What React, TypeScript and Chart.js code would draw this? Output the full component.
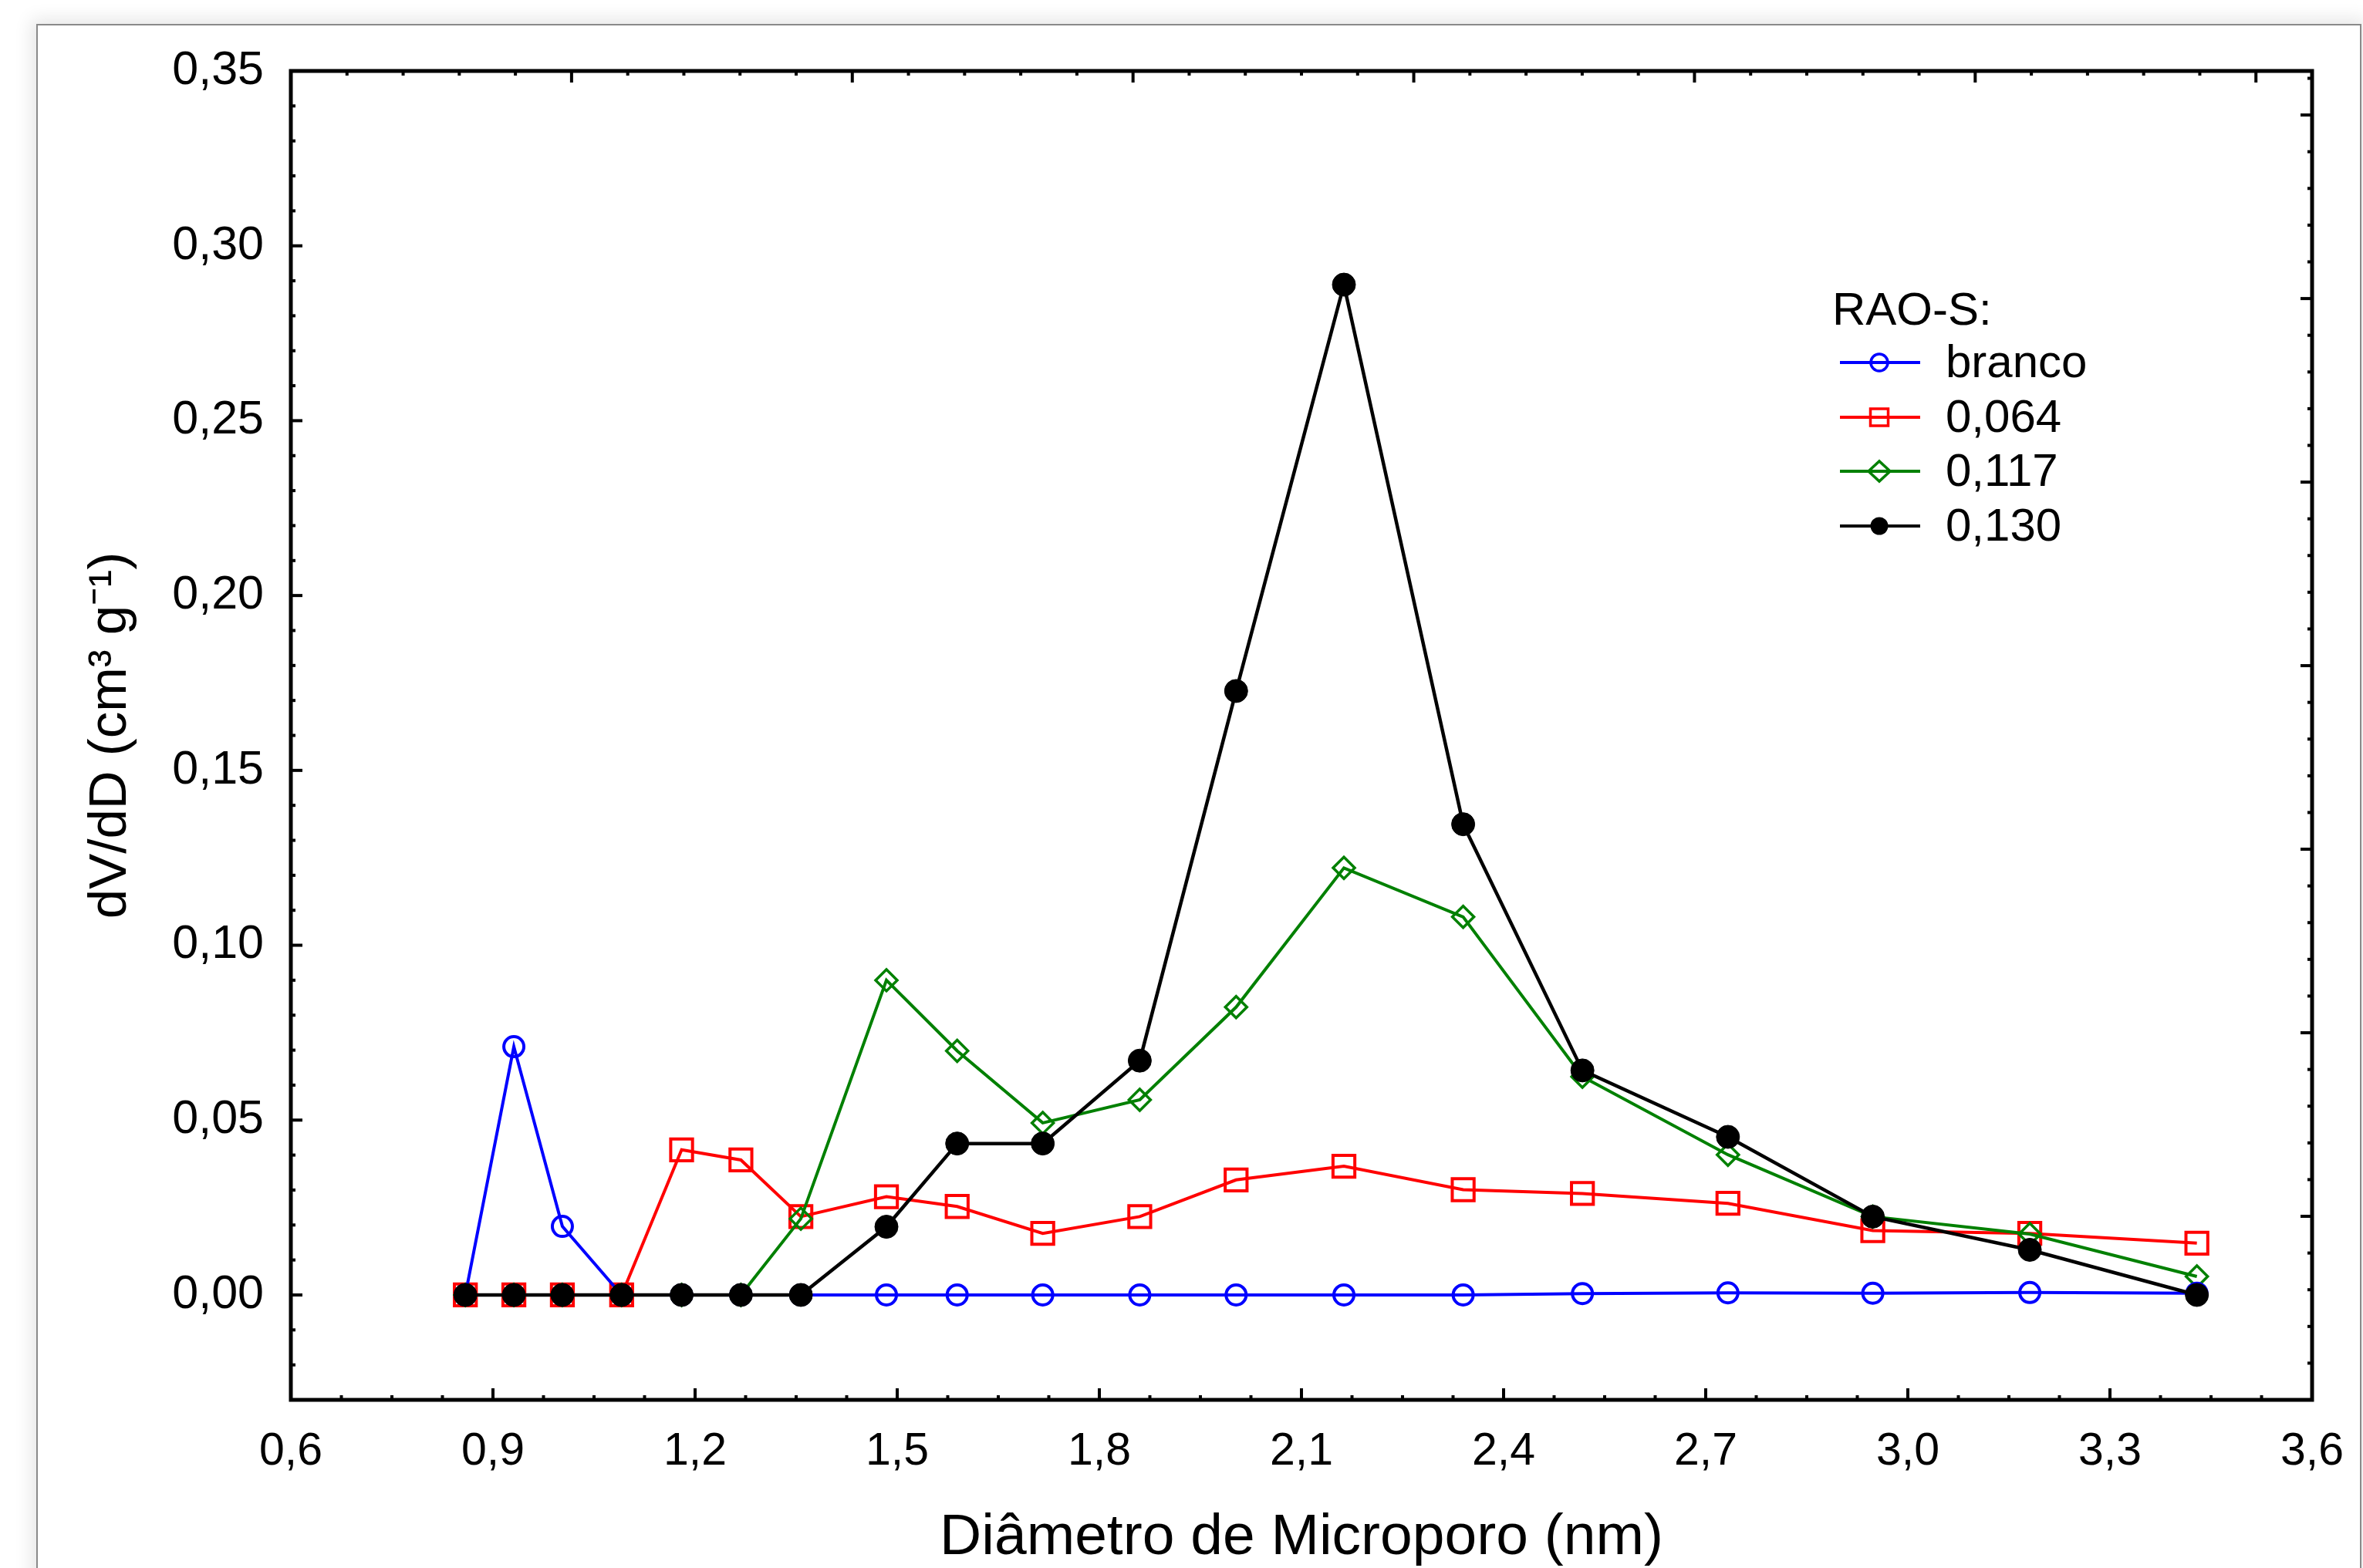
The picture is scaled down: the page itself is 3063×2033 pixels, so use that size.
import React, { useEffect, useRef } from 'react';
import { Chart, registerables } from 'chart.js';

Chart.register(...registerables);

// ---------------- data ----------------
const diameters = [0.859, 0.931, 1.003, 1.091, 1.18, 1.268, 1.357, 1.484, 1.589, 1.716, 1.86, 2.003, 2.163, 2.34, 2.517, 2.733, 2.948, 3.181, 3.429];
const branco = [0, 0.071, 0.0196, 0, 0, 0, 0, 0, 0, 0, 0, 0, 0, 0, 0.0004, 0.0006, 0.0005, 0.0007, 0.0005];
const rao064 = [0, 0, 0, 0, 0.0415, 0.0386, 0.0224, 0.0281, 0.0253, 0.0176, 0.0224, 0.0329, 0.0368, 0.0301, 0.029, 0.0262, 0.0184, 0.0176, 0.0148];
const rao117 = [0, 0, 0, 0, 0, 0, 0.0218, 0.09, 0.0698, 0.0492, 0.0558, 0.0823, 0.1221, 0.1081, 0.0624, 0.0401, 0.0224, 0.0174, 0.0053];
const rao130 = [0, 0, 0, 0, 0, 0, 0, 0.0195, 0.0433, 0.0433, 0.067, 0.1727, 0.2889, 0.1346, 0.0642, 0.0452, 0.0224, 0.0129, 0];

const seriesNames = ['branco', '0,064', '0,117', '0,130'];
const legendTitle = 'RAO-S:';
const xTitle = 'Diâmetro de Microporo (nm)';
const yTitle = 'dV/dD (cm³ g⁻¹)';

const xTicks = [0.6, 0.9, 1.2, 1.5, 1.8, 2.1, 2.4, 2.7, 3.0, 3.3, 3.6];
const yTicks = [0, 0.05, 0.1, 0.15, 0.2, 0.25, 0.3, 0.35];
const X_MIN = 0.6;
const X_MAX = 3.6;
const Y_MIN = -0.03;
const Y_MAX = 0.35;
const X_MINOR_STEP = 0.075;
const Y_MINOR_STEP = 0.01;
// mirrored (top / right) axes of the original use their own spacing
const X2_MIN = 0;
const X2_MAX = 3.6;
const X2_MINOR = 0.1;
const Y2_MIN = 0;
const Y2_MAX = 0.362;
const Y2_MINOR = 0.01;

const FONT = '"Liberation Sans", Arial, Helvetica, sans-serif';

const toPts = (ys: number[]) => diameters.map((d, i) => ({ x: d, y: ys[i] }));

// frame + inward ticks on all four sides
const framePlugin = {
  id: 'frameTicks',
  afterDraw(chart: any) {
    const { ctx, chartArea: a, scales } = chart;
    const xs = scales.x;
    const ys = scales.y;
    const xt = scales.x2;
    const yr = scales.y2;
    ctx.save();
    ctx.strokeStyle = '#000';
    ctx.lineCap = 'butt';
    ctx.lineWidth = 4;
    const seg = (x1: number, y1: number, x2: number, y2: number) => {
      ctx.beginPath();
      ctx.moveTo(x1, y1);
      ctx.lineTo(x2, y2);
      ctx.stroke();
    };
    // bottom
    const nx = Math.round((X_MAX - X_MIN) / X_MINOR_STEP);
    for (let i = 1; i < nx; i++) {
      const px = xs.getPixelForValue(X_MIN + i * X_MINOR_STEP);
      seg(px, a.bottom, px, a.bottom - (i % 4 === 0 ? 15 : 6));
    }
    // left
    const ny = Math.round((Y_MAX - Y_MIN) / Y_MINOR_STEP);
    for (let i = 1; i < ny; i++) {
      const py = ys.getPixelForValue(Y_MIN + i * Y_MINOR_STEP);
      seg(a.left, py, a.left + ((i - 3) % 5 === 0 ? 15 : 6), py);
    }
    // top
    const nx2 = Math.round((X2_MAX - X2_MIN) / X2_MINOR);
    for (let i = 1; i < nx2; i++) {
      const px = xt.getPixelForValue(X2_MIN + i * X2_MINOR);
      seg(px, a.top, px, a.top + (i % 5 === 0 ? 15 : 6));
    }
    // right
    const ny2 = Math.floor((Y2_MAX - Y2_MIN) / Y2_MINOR + 1e-6);
    for (let i = 1; i <= ny2; i++) {
      const py = yr.getPixelForValue(Y2_MIN + i * Y2_MINOR);
      if (py <= a.top + 3) continue;
      seg(a.right, py, a.right - (i % 5 === 0 ? 15 : 6), py);
    }
    ctx.lineWidth = 5;
    ctx.strokeRect(a.left, a.top, a.right - a.left, a.bottom - a.top);
    ctx.restore();
  },
};

// legend drawn inside the plot area
const legendPlugin = {
  id: 'insideLegend',
  afterDraw(chart: any) {
    const { ctx } = chart;
    const titleX = 2375;
    const titleY = 404;
    const lineX0 = 2385;
    const lineX1 = 2489;
    const markX = 2436;
    const textX = 2522;
    const rowY = [470, 541, 611, 682];
    ctx.save();
    ctx.fillStyle = '#000';
    ctx.textBaseline = 'middle';
    ctx.textAlign = 'left';
    ctx.font = `60px ${FONT}`;
    ctx.fillText(legendTitle, titleX, titleY);
    chart.data.datasets.forEach((ds: any, i: number) => {
      const y = rowY[i];
      const c = ds.borderColor;
      ctx.strokeStyle = c;
      ctx.lineWidth = 4;
      ctx.beginPath();
      ctx.moveTo(lineX0, y);
      ctx.lineTo(lineX1, y);
      ctx.stroke();
      ctx.lineWidth = 3.5;
      ctx.beginPath();
      if (ds.pointStyle === 'circle' && ds.legendFilled) {
        ctx.fillStyle = c;
        ctx.arc(markX, y, 11.5, 0, Math.PI * 2);
        ctx.fill();
      } else if (ds.pointStyle === 'circle') {
        ctx.arc(markX, y, 11, 0, Math.PI * 2);
        ctx.stroke();
      } else if (ds.pointStyle === 'rect') {
        ctx.rect(markX - 11.5, y - 11, 23, 22);
        ctx.stroke();
      } else if (ds.pointStyle === 'rectRot') {
        ctx.moveTo(markX - 14, y);
        ctx.lineTo(markX, y - 13);
        ctx.lineTo(markX + 14, y);
        ctx.lineTo(markX, y + 13);
        ctx.closePath();
        ctx.stroke();
      }
      ctx.fillStyle = '#000';
      ctx.fillText(ds.label, textX, y + 2);
    });
    ctx.restore();
  },
};

export default function App() {
  const ref = useRef<HTMLCanvasElement | null>(null);

  useEffect(() => {
    if (!ref.current) return;
    Chart.defaults.font.family = FONT;
    const chart = new Chart(ref.current, {
      type: 'line',
      data: {
        datasets: [
          {
            label: seriesNames[0],
            data: toPts(branco),
            borderColor: '#0000ff',
            borderWidth: 4,
            pointStyle: 'circle',
            pointRadius: 13,
            pointBorderWidth: 4,
            pointBorderColor: '#0000ff',
            pointBackgroundColor: 'rgba(0,0,0,0)',
            tension: 0,
            order: 1,
          } as any,
          {
            label: seriesNames[1],
            data: toPts(rao064),
            borderColor: '#ff0000',
            borderWidth: 4,
            pointStyle: 'rect',
            pointRadius: 20,
            pointBorderWidth: 4,
            pointBorderColor: '#ff0000',
            pointBackgroundColor: 'rgba(0,0,0,0)',
            tension: 0,
            order: 3,
          } as any,
          {
            label: seriesNames[2],
            data: toPts(rao117),
            borderColor: '#008000',
            borderWidth: 4,
            pointStyle: 'rectRot',
            pointRadius: 14,
            pointBorderWidth: 3.5,
            pointBorderColor: '#008000',
            pointBackgroundColor: 'rgba(0,0,0,0)',
            tension: 0,
            order: 2,
          } as any,
          {
            label: seriesNames[3],
            data: toPts(rao130),
            borderColor: '#000000',
            borderWidth: 4.5,
            pointStyle: 'circle',
            pointRadius: 15,
            pointBorderWidth: 1,
            pointBorderColor: '#000000',
            pointBackgroundColor: '#000000',
            legendFilled: true,
            tension: 0,
            order: 0,
          } as any,
        ],
      },
      options: {
        responsive: false,
        animation: false,
        devicePixelRatio: 1,
        layout: { padding: { left: 0, top: 92, right: 66, bottom: 0 } },
        plugins: {
          legend: { display: false },
          tooltip: { enabled: false },
        },
        scales: {
          x: {
            type: 'linear',
            position: 'bottom',
            min: X_MIN,
            max: X_MAX,
            afterBuildTicks: (s: any) => {
              s.ticks = xTicks.map((v) => ({ value: v }));
            },
            afterFit: (s: any) => {
              s.height = 218;
              s.paddingLeft = 0;
              s.paddingRight = 0;
            },
            grid: { display: false, drawTicks: false },
            border: { display: false },
            ticks: {
              padding: 32,
              color: '#000',
              font: { size: 59, family: FONT },
              maxRotation: 0,
              autoSkip: false,
              callback: (v: any) => Number(v).toFixed(1).replace('.', ','),
            },
            title: {
              display: true,
              text: xTitle,
              color: '#000',
              font: { size: 75, family: FONT },
              padding: { top: 0, bottom: -6 },
            },
          },
          y: {
            type: 'linear',
            position: 'left',
            min: Y_MIN,
            max: Y_MAX,
            afterBuildTicks: (s: any) => {
              s.ticks = yTicks.map((v) => ({ value: v }));
            },
            afterFit: (s: any) => {
              s.width = 377;
            },
            grid: { display: false, drawTicks: false },
            border: { display: false },
            ticks: {
              padding: 35,
              color: '#000',
              font: { size: 61, family: FONT },
              autoSkip: false,
              callback: (v: any) => Number(v).toFixed(2).replace('.', ','),
            },
            title: {
              display: true,
              text: yTitle,
              color: '#000',
              font: { size: 69, family: FONT },
              padding: { top: 103, bottom: 0 },
            },
          },
          x2: {
            type: 'linear',
            position: 'top',
            min: X2_MIN,
            max: X2_MAX,
            display: false,
          },
          y2: {
            type: 'linear',
            position: 'right',
            min: Y2_MIN,
            max: Y2_MAX,
            display: false,
          },
        },
      } as any,
      plugins: [framePlugin, legendPlugin],
    });
    return () => chart.destroy();
  }, []);

  return (
    <div
      style={{
        position: 'absolute',
        left: 0,
        top: 0,
        width: 3063,
        height: 2033,
        overflow: 'hidden',
        background: '#fff',
      }}
    >
      <div
        style={{
          position: 'absolute',
          left: 47,
          top: 31,
          width: 3010,
          height: 2100,
          border: '2px solid #8a8a8a',
          boxShadow: '0 0 22px 6px rgba(0,0,0,0.10)',
          background: '#fff',
        }}
      />
      <canvas
        ref={ref}
        width={3063}
        height={2033}
        style={{ position: 'absolute', left: 0, top: 0, width: 3063, height: 2033 }}
      />
    </div>
  );
}
